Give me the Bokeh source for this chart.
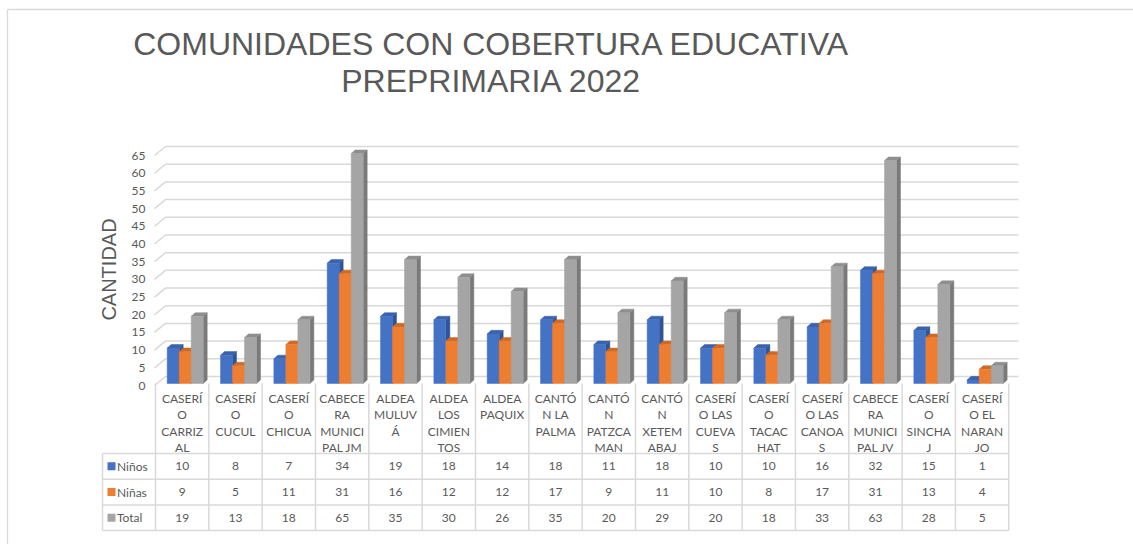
from bokeh.plotting import figure
from bokeh.models import Range1d
from bokeh.core.properties import value
from bokeh.embed import file_html
from bokeh.resources import INLINE
import math

# ---------------- data ----------------
CATEGORIES = [
    "CASERÍ\nO\nCARRIZ\nAL",
    "CASERÍ\nO\nCUCUL",
    "CASERÍ\nO\nCHICUA",
    "CABECE\nRA\nMUNICI\nPAL JM",
    "ALDEA\nMULUV\nÁ",
    "ALDEA\nLOS\nCIMIEN\nTOS",
    "ALDEA\nPAQUIX",
    "CANTÓ\nN LA\nPALMA",
    "CANTÓ\nN\nPATZCA\nMAN",
    "CANTÓ\nN\nXETEM\nABAJ",
    "CASERÍ\nO LAS\nCUEVA\nS",
    "CASERÍ\nO\nTACAC\nHAT",
    "CASERÍ\nO LAS\nCANOA\nS",
    "CABECE\nRA\nMUNICI\nPAL JV",
    "CASERÍ\nO\nSINCHA\nJ",
    "CASERÍ\nO EL\nNARAN\nJO",
]
SERIES_NAMES = ["Niños", "Niñas", "Total"]
NINOS = [10, 8, 7, 34, 19, 18, 14, 18, 11, 18, 10, 10, 16, 32, 15, 1]
NINAS = [9, 5, 11, 31, 16, 12, 12, 17, 9, 11, 10, 8, 17, 31, 13, 4]
TOTAL = [19, 13, 18, 65, 35, 30, 26, 35, 20, 29, 20, 18, 33, 63, 28, 5]
Y_TICKS = list(range(0, 70, 5))
TITLE_LINES = ["COMUNIDADES CON COBERTURA EDUCATIVA", "PREPRIMARIA 2022"]
Y_TITLE = "CANTIDAD"

# ---------------- layout constants ----------------
W, H = 1133, 544
COLW = 53.33   # px per category
X0 = 155.0     # canvas px of category 0 left edge
YS = 3.538     # px per unit
Y0 = 383.0     # canvas px of value 0

def X(px):      # canvas px -> data x
    return (px - X0) / COLW

def Y(py):      # canvas px -> data y
    return (Y0 - py) / YS

def dx(px):
    return px / COLW

def dy(px):
    return px / YS

TXT = "#595959"
GRID = "#d9d9d9"
FONT_S = value("Lato")
FONT_T = value("Liberation Sans")

p = figure(width=W, height=H, output_backend="svg", toolbar_location=None,
           x_range=Range1d(X(0), X(W)), y_range=Range1d(Y(H), Y(0)),
           x_axis_location=None, y_axis_location=None, min_border=0,
           background_fill_color="white", border_fill_color="white")
p.outline_line_color = None
p.grid.visible = False

n = len(CATEGORIES)

# outer border (left + top)
p.segment(x0=[X(7), X(7)], y0=[Y(9), Y(9)], x1=[X(7), X(W)], y1=[Y(H), Y(9)],
          line_color=GRID, line_width=1.3)

# gridlines (3D: slanted front part + back wall)
gx, gy = [], []
for v in Y_TICKS:
    yf = v - dy(2)
    yb = v + dy(7)
    gx.append([dx(-1), dx(10), X(1018)])
    gy.append([yf, yb, yb])
p.multi_line(xs=gx, ys=gy, line_color=GRID, line_width=1.5)

# y tick labels
p.text(x=[dx(-10)] * len(Y_TICKS), y=[v - dy(2) for v in Y_TICKS],
       text=[str(v) for v in Y_TICKS], text_font=FONT_S, text_font_size="12px",
       text_color=TXT, text_align="right", text_baseline="middle")

# y axis title
p.text(x=[X(108)], y=[Y(269)], text=[Y_TITLE], angle=math.pi / 2,
       text_font=FONT_T, text_font_size="20px", text_color=TXT,
       text_align="center", text_baseline="middle")

# chart title
p.text(x=[X(491), X(491)], y=[Y(43), Y(80)], text=TITLE_LINES,
       text_font=FONT_T, text_font_size="32px", text_color=TXT,
       text_align="center", text_baseline="alphabetic")

# 3D bars
COLORS = [
    ("#4472C4", "#2F5597", "#3A62AD"),
    ("#ED7D31", "#B55E22", "#CF6A26"),
    ("#A5A5A5", "#7A7A7A", "#8E8E8E"),
]
BAR_W = 12.0
SIDE_X, SIDE_Y = 4.0, 3.6
for s, vals in enumerate([NINOS, NINAS, TOTAL]):
    cf, cs, ct = COLORS[s]
    xl = [i + dx(11.7 + BAR_W * s) for i in range(n)]
    xr = [a + dx(BAR_W) for a in xl]
    sx = dx(SIDE_X)
    sy = dy(SIDE_Y)
    p.patches(xs=[[b, b + sx, b + sx, b] for b in xr],
              ys=[[0, sy, v + sy, v] for v in vals],
              fill_color=cs, line_color=cs, line_width=0.5)
    p.patches(xs=[[a, b, b + sx, a + sx] for a, b in zip(xl, xr)],
              ys=[[v, v, v + sy, v + sy] for v in vals],
              fill_color=ct, line_color=ct, line_width=0.5)
    p.quad(left=xl, right=xr, bottom=[0] * n, top=vals,
           fill_color=cf, line_color=cf, line_width=0.5)

# data table
ROW_TOP = 453.0
ROW_H = 25.7
TBL_BOTTOM = ROW_TOP + 3 * ROW_H
LEG_LEFT = 102.0
# vertical separators
p.segment(x0=list(range(n + 1)), y0=[Y(383)] * (n + 1),
          x1=list(range(n + 1)), y1=[Y(TBL_BOTTOM)] * (n + 1),
          line_color=GRID, line_width=1.5)
p.segment(x0=[X(LEG_LEFT)], y0=[Y(ROW_TOP)], x1=[X(LEG_LEFT)], y1=[Y(TBL_BOTTOM)],
          line_color=GRID, line_width=1.5)
# horizontal lines
hy = [ROW_TOP + k * ROW_H for k in range(4)]
p.segment(x0=[X(LEG_LEFT)] * 4, y0=[Y(h) for h in hy],
          x1=[n] * 4, y1=[Y(h) for h in hy],
          line_color=GRID, line_width=1.5)

# category labels (wrapped)
lx, ly, lt = [], [], []
for i, cat in enumerate(CATEGORIES):
    for k, line in enumerate(cat.split("\n")):
        lx.append(i + 0.5)
        ly.append(Y(398 + 16.3 * k))
        lt.append(line)
p.text(x=lx, y=ly, text=lt, text_font=FONT_S, text_font_size="12px",
       text_color=TXT, text_align="center", text_baseline="middle")

# table values
for r, vals in enumerate([NINOS, NINAS, TOTAL]):
    yc = Y(ROW_TOP + ROW_H * (r + 0.5))
    p.text(x=[i + 0.5 for i in range(n)], y=[yc] * n, text=[str(v) for v in vals],
           text_font=FONT_S, text_font_size="12px", text_color=TXT,
           text_align="center", text_baseline="middle")
    p.scatter(x=[X(111)], y=[yc], marker="square", size=8,
              fill_color=COLORS[r][0], line_color=None)
    p.text(x=[X(116.5)], y=[yc], text=[SERIES_NAMES[r]], text_font=FONT_S,
           text_font_size="12px", text_color=TXT, text_align="left",
           text_baseline="middle")

open("out.html", "w").write(file_html(p, INLINE))
